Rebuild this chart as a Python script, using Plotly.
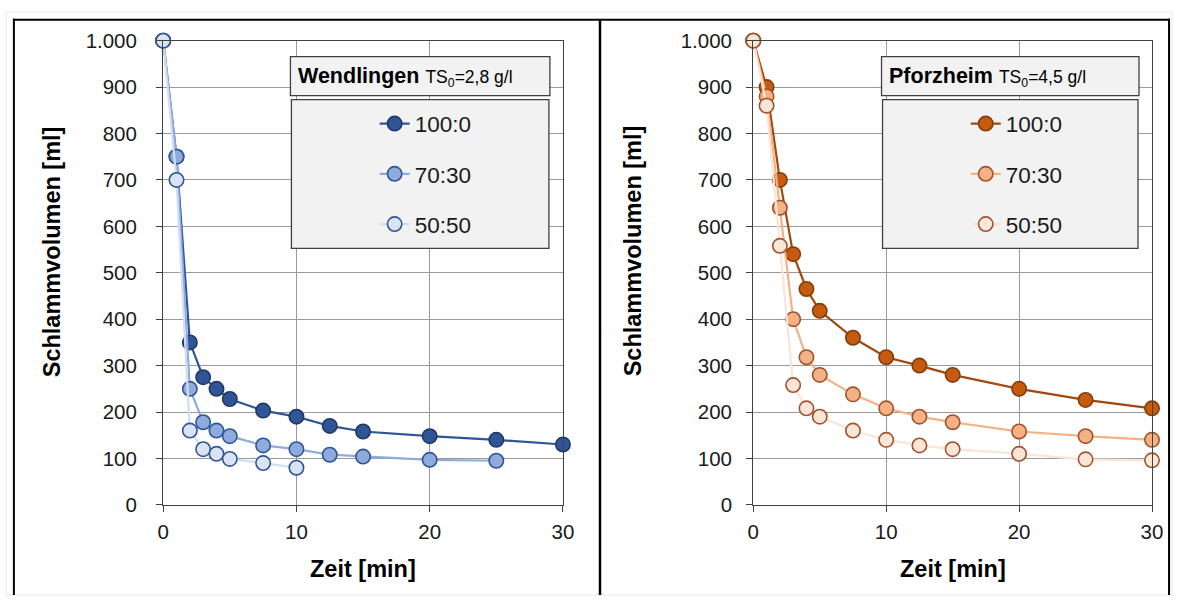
import plotly.graph_objects as go

W, H = 1183, 606

# ---------------- data ----------------
series_names = ["100:0", "70:30", "50:50"]

w_x100 = [0, 1, 2, 3, 4, 5, 7.5, 10, 12.5, 15, 20, 25, 30]
w_y100 = [1000, 750, 350, 275, 250, 228, 203, 190, 170, 158, 148, 140, 130]
w_x70 = [0, 1, 2, 3, 4, 5, 7.5, 10, 12.5, 15, 20, 25]
w_y70 = [1000, 750, 250, 178, 160, 148, 128, 120, 108, 104, 97, 95]
w_x50 = [0, 1, 2, 3, 4, 5, 7.5, 10]
w_y50 = [1000, 700, 160, 120, 110, 99, 90, 80]

p_x = [0, 1, 2, 3, 4, 5, 7.5, 10, 12.5, 15, 20, 25, 30]
p_y100 = [1000, 900, 700, 540, 465, 418, 360, 318, 300, 280, 250, 226, 208]
p_y70 = [1000, 880, 640, 400, 318, 280, 238, 208, 190, 178, 158, 148, 140]
p_y50 = [1000, 860, 558, 258, 208, 190, 160, 140, 128, 120, 110, 98, 96]

x_ticks = [0, 10, 20, 30]
y_ticks = [0, 100, 200, 300, 400, 500, 600, 700, 800, 900, 1000]
y_ticktext = ["0", "100", "200", "300", "400", "500", "600", "700", "800", "900", "1.000"]

x_title = "Zeit [min]"
y_title = "Schlammvolumen [ml]"
titles = ["Wendlingen", "Pforzheim"]
subtitles = ["TS<sub>0</sub>=2,8 g/l", "TS<sub>0</sub>=4,5 g/l"]

# ---------------- styles ----------------
FONT = "Liberation Sans, Arial, sans-serif"
blue_fill = ["#2F5597", "#8FAADC", "#DAE3F3"]
blue_line = ["#2F5597", "#8FAADC", "#D0DDF2"]
blue_edge = ["#203864", "#2F5597", "#2F5597"]
orng_fill = ["#C55A11", "#F4B183", "#FBE5D6"]
orng_line = ["#A0480E", "#F4B183", "#FBE5D6"]
orng_edge = ["#843C0C", "#A0522D", "#A0522D"]


def cx(x):
    # compensate the capture's horizontal fit
    return (x - 7.1) / 0.9838


def cy(y):
    # compensate the capture's vertical fit
    return (y - 10.3) / 0.9637


def px(x):
    return x / W


def py(y):
    return 1 - y / H


fig = go.Figure()

w_data = [(w_x100, w_y100), (w_x70, w_y70), (w_x50, w_y50)]
p_data = [(p_x, p_y100), (p_x, p_y70), (p_x, p_y50)]

for i, (xs, ys) in enumerate(w_data):
    fig.add_trace(go.Scatter(
        x=xs, y=ys, name=series_names[i], mode="lines+markers",
        line=dict(color=blue_line[i], width=2.2),
        marker=dict(size=14.4, color=blue_fill[i], line=dict(color=blue_edge[i], width=1.6)),
        xaxis="x", yaxis="y", cliponaxis=False, legend="legend",
        legendgroup="w" + str(i)))

for i, (xs, ys) in enumerate(p_data):
    fig.add_trace(go.Scatter(
        x=xs, y=ys, name=series_names[i], mode="lines+markers",
        line=dict(color=orng_line[i], width=2.2),
        marker=dict(size=14.4, color=orng_fill[i], line=dict(color=orng_edge[i], width=1.6)),
        xaxis="x2", yaxis="y2", cliponaxis=False, legend="legend2",
        legendgroup="p" + str(i)))

# plot geometry (target pixels, compensated)
L1, R1 = cx(164), cx(563)
L2, R2 = cx(753), cx(1151)
TOP, BOT = cy(39), cy(504)

axis_common = dict(
    showline=True, linecolor="#404040", linewidth=1.3, mirror=True,
    showgrid=True, gridcolor="#9A9A9A", gridwidth=1.2,
    ticks="outside", ticklen=6, tickcolor="#404040", tickwidth=1.2,
    zeroline=False, tickfont=dict(family=FONT, size=20.5, color="#1a1a1a"),
)

xa = dict(axis_common, range=[0, 30], tickvals=x_ticks, ticklabelstandoff=2)
ya = dict(axis_common, range=[0, 1000], tickvals=y_ticks, ticktext=y_ticktext)

leg_common = dict(yanchor="top", xanchor="left", bgcolor="rgba(0,0,0,0)", borderwidth=0,
                  font=dict(family=FONT, size=22.5, color="#1a1a1a"), tracegroupgap=18)

fig.update_layout(
    width=W, height=H, margin=dict(l=0, r=0, t=0, b=0),
    paper_bgcolor="white", plot_bgcolor="white",
    font=dict(family=FONT),
    xaxis=dict(xa, domain=[px(L1), px(R1)], anchor="y"),
    yaxis=dict(ya, domain=[py(BOT), py(TOP)], anchor="x", ticklabelstandoff=15),
    xaxis2=dict(xa, domain=[px(L2), px(R2)], anchor="y2"),
    yaxis2=dict(ya, domain=[py(BOT), py(TOP)], anchor="x2", ticklabelstandoff=10),
    legend=dict(leg_common, x=px(374), y=py(94)),
    legend2=dict(leg_common, x=px(374 + cx(881) - cx(291)), y=py(94)),
    showlegend=True,
)

shapes = []
shapes.append(dict(type="rect", xref="paper", yref="paper", x0=0, x1=1, y0=0, y1=1,
                   line=dict(color="#F4F4F4", width=2)))
# outer frame and divider
shapes.append(dict(type="line", xref="paper", yref="paper", x0=px(8), x1=px(8), y0=py(7), y1=0,
                   line=dict(color="black", width=2)))
shapes.append(dict(type="line", xref="paper", yref="paper", x0=px(7), x1=px(1181), y0=py(8), y1=py(8),
                   line=dict(color="black", width=2)))
shapes.append(dict(type="line", xref="paper", yref="paper", x0=px(1180), x1=px(1180), y0=py(7), y1=0,
                   line=dict(color="black", width=2)))
shapes.append(dict(type="line", xref="paper", yref="paper", x0=px(cx(600)), x1=px(cx(600)), y0=py(8), y1=0,
                   line=dict(color="black", width=2.5)))

# legend title boxes and legend boxes
for (lx0, lx1) in [(291, 550), (881, 1138)]:
    shapes.append(dict(type="rect", xref="paper", yref="paper", layer="above",
                       x0=px(cx(lx0)), x1=px(cx(lx1)), y0=py(cy(94)), y1=py(cy(55)),
                       fillcolor="#F2F2F2", line=dict(color="#404040", width=1.3)))
    shapes.append(dict(type="rect", xref="paper", yref="paper", layer="above",
                       x0=px(cx(lx0 + 1)), x1=px(cx(lx1 - 1)), y0=py(cy(247)), y1=py(cy(98)),
                       fillcolor="#F2F2F2", line=dict(color="#404040", width=1.3)))
fig.update_layout(shapes=shapes)

ann = []
for tx, t, s in zip([297, 886], titles, subtitles):
    ann.append(dict(xref="paper", yref="paper", x=px(cx(tx)), y=py(cy(75)), xanchor="left", yanchor="middle",
                    showarrow=False, font=dict(family=FONT, size=21.5, color="black"),
                    text="<b>" + t + "</b> <span style='font-size:17.5px'>" + s + "</span>"))
for c in [(164 + 563) / 2, (753 + 1151) / 2]:
    ann.append(dict(xref="paper", yref="paper", x=px(cx(c)), y=py(cy(568)), xanchor="center", yanchor="middle",
                    showarrow=False, font=dict(family=FONT, size=23.5, color="black"),
                    text="<b>" + x_title + "</b>"))
for c in [53, 633]:
    ann.append(dict(xref="paper", yref="paper", x=px(cx(c)), y=py(cy(250)), xanchor="center", yanchor="middle",
                    showarrow=False, textangle=-90, font=dict(family=FONT, size=23.5, color="black"),
                    text="<b>" + y_title + "</b>"))
fig.update_layout(annotations=ann)

fig.write_html("out.html",
               post_script="document.body.style.margin='0';document.body.style.padding='0';")
